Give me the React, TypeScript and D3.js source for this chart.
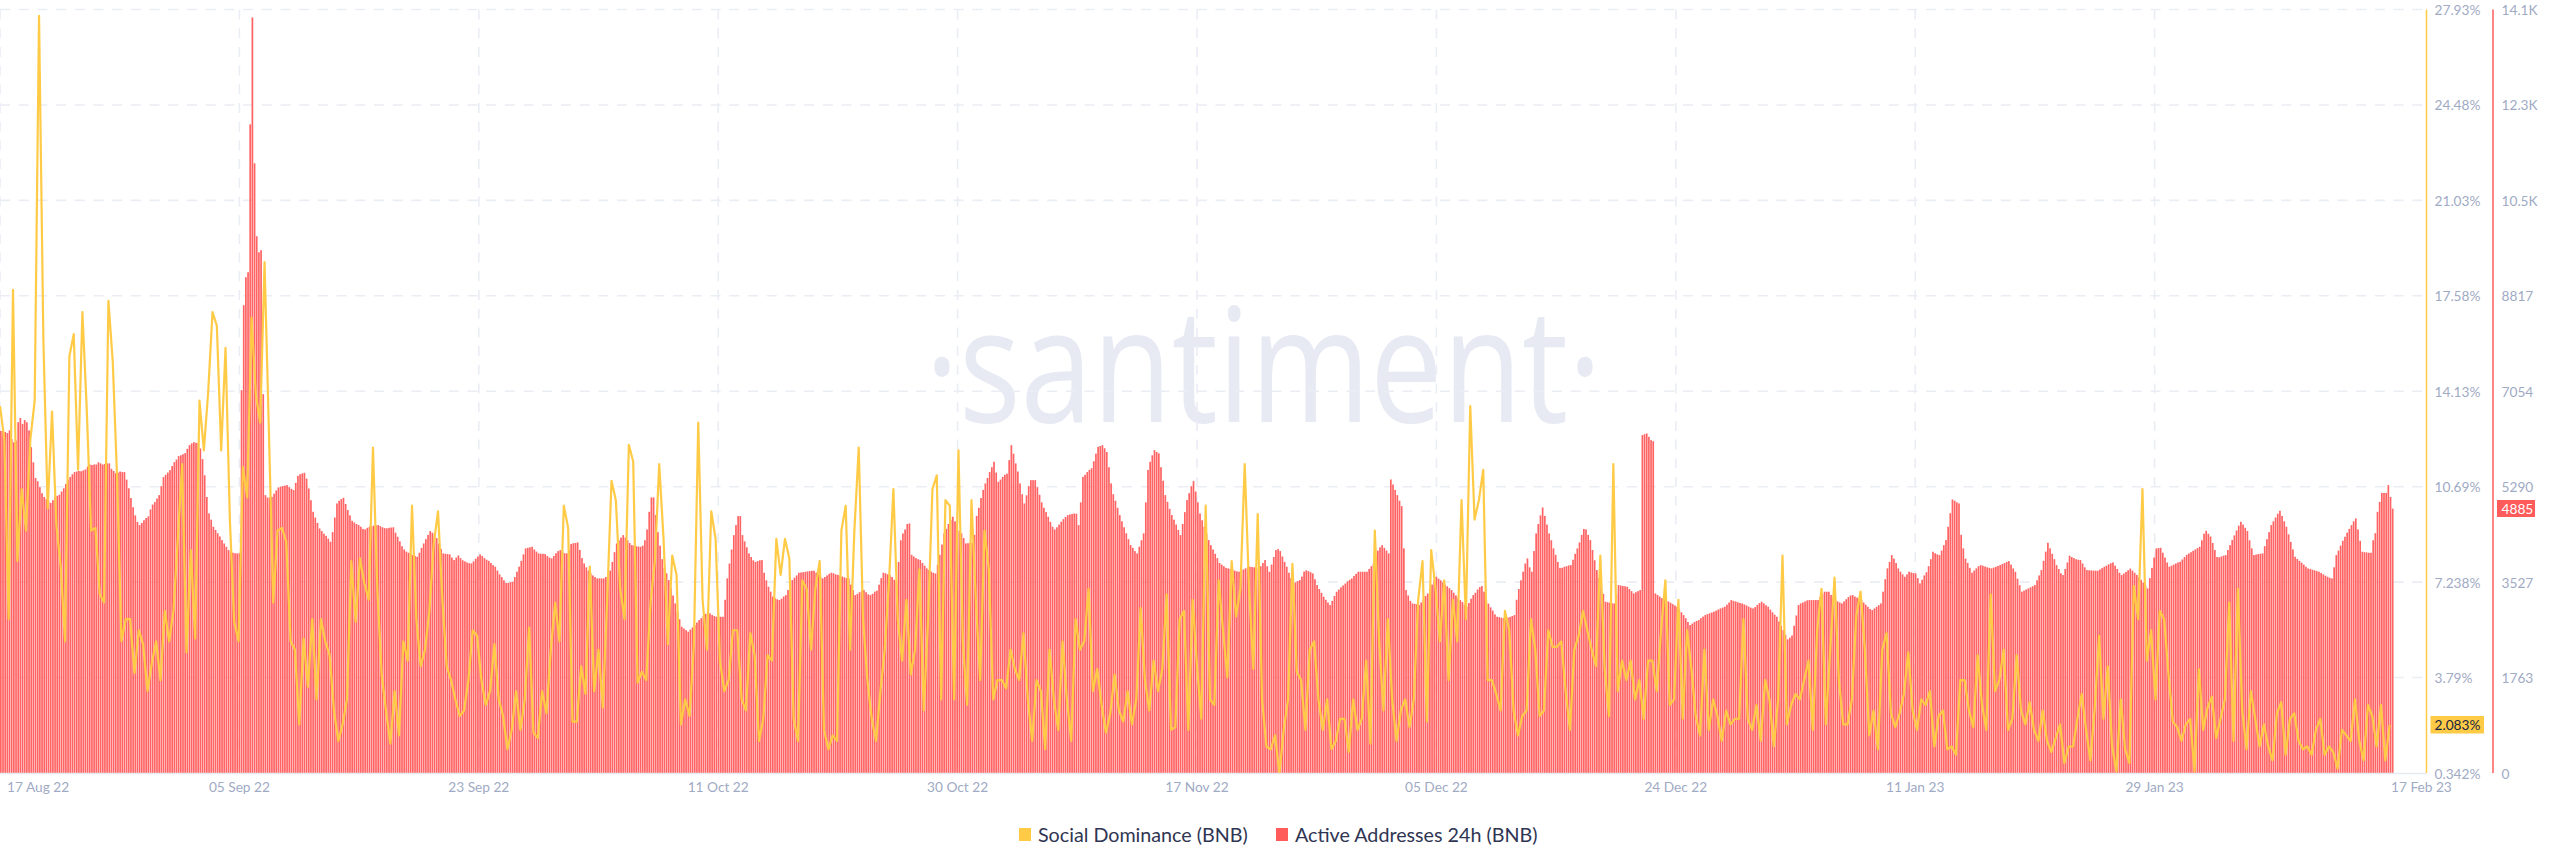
import * as d3 from "d3";

// one reading every 4 hours, from 17 Aug 22
const activeAddresses = [
  6320,6320,6300,6280,6330,6170,6110,6140,6480,6560,6450,6520,6480,6330,6020,5740,5450,5390,5280,5170,
  5100,5060,5020,4990,5040,5090,5120,5140,5200,5260,5340,5420,5470,5520,5560,5570,5580,5575,5590,5610,
  5660,5700,5690,5700,5700,5740,5720,5700,5710,5720,5720,5620,5580,5540,5550,5570,5560,5560,5420,5260,
  5080,4910,4760,4640,4580,4620,4670,4710,4740,4870,4960,5005,5070,5134,5300,5466,5510,5550,5596,5670,
  5743,5790,5854,5870,5890,5910,5990,6057,6090,6113,6100,6094,5996,5800,5500,5100,4796,4680,4549,4490,
  4430,4370,4303,4240,4180,4118,4090,4070,4060,4057,4057,7073,8643,9160,9252,11985,13960,11265,9917,9621,
  9658,6999,5134,5090,5090,5100,5160,5220,5276,5290,5300,5310,5319,5280,5250,5226,5360,5490,5520,5535,
  5547,5440,5257,5040,4826,4720,4620,4518,4470,4420,4383,4330,4272,4450,4720,4980,5030,5060,5085,4970,
  4857,4760,4660,4630,4600,4580,4550,4510,4500,4530,4549,4560,4570,4575,4580,4560,4540,4525,4520,4530,
  4535,4540,4440,4365,4280,4190,4130,4090,4069,4050,4025,4010,3995,4070,4160,4241,4320,4400,4470,4440,
  4400,4340,4240,4140,4057,4050,4045,4040,3980,3934,3980,4020,3970,3930,3910,3890,3875,3872,3910,3960,
  4000,4038,4010,3970,3940,3920,3880,3840,3811,3740,3670,3620,3560,3510,3510,3525,3534,3620,3720,3811,
  3920,4040,4149,4160,4170,4180,4130,4090,4057,4050,4050,4045,4010,3980,3964,4010,4060,4100,4118,4090,
  4060,4057,4120,4230,4245,4250,4260,4120,3970,3872,3800,3740,3687,3650,3620,3595,3595,3595,3595,3620,
  3680,3740,3900,4080,4241,4300,4350,4395,4350,4300,4250,4211,4200,4190,4185,4180,4200,4300,4500,4826,
  5091,5091,4765,4450,4200,3950,3790,3690,3564,3420,3280,3133,2980,2840,2703,2670,2640,2610,2650,2690,
  2730,2780,2826,2860,2900,2940,2967,2950,2920,2900,2887,2887,2887,2887,3200,3595,3870,4130,4395,4580,
  4746,4746,4395,4280,4170,4057,3990,3930,3900,3915,3930,3934,3700,3560,3440,3350,3260,3230,3210,3195,
  3220,3260,3287,3380,3470,3564,3610,3650,3700,3705,3710,3718,3725,3730,3735,3737,3700,3660,3620,3595,
  3620,3650,3680,3700,3690,3670,3660,3644,3630,3615,3600,3595,3480,3380,3287,3310,3340,3365,3380,3340,
  3300,3287,3310,3350,3370,3480,3600,3700,3690,3670,3657,3620,3570,3534,3900,4300,4426,4500,4600,4611,
  4030,4000,3970,3950,3934,3880,3830,3780,3750,3720,3700,3687,3850,4030,4220,4426,4510,4600,4680,4734,
  4650,4560,4480,4426,4340,4241,4245,4250,4254,4400,4750,4900,5080,5230,5350,5450,5560,5650,5750,5550,
  5380,5420,5470,5510,5530,5780,6057,5900,5720,5570,5350,5150,4980,5130,5300,5411,5411,5411,5280,5140,
  5000,4900,4820,4734,4640,4550,4500,4540,4590,4642,4690,4730,4765,4775,4785,4795,4790,4580,5000,5473,
  5510,5560,5600,5630,5760,5900,6027,6040,6057,6000,5930,5650,5350,5150,5030,4900,4765,4650,4540,4430,
  4320,4211,4160,4100,4057,4180,4300,4426,5000,5600,5750,5870,5965,5930,5905,5650,5400,5134,5010,4880,
  4765,4680,4590,4490,4395,4600,4820,5042,5170,5300,5393,5200,5000,4795,4670,4550,4420,4303,4210,4130,
  4050,3970,3880,3850,3820,3790,3780,3770,3755,3740,3725,3718,3735,3760,3780,3800,3811,3805,3800,3790,
  3780,3820,3880,3934,3820,3718,3850,3990,4118,4140,4100,4000,3900,3811,3700,3600,3503,3520,3545,3564,
  3630,3720,3745,3730,3710,3687,3580,3472,3400,3330,3256,3200,3150,3103,3180,3270,3349,3390,3430,3465,
  3500,3540,3570,3595,3640,3680,3718,3718,3718,3718,3718,3770,3820,3860,3980,4110,4170,4211,4160,4110,
  4057,5423,5330,5230,5134,5030,4931,4150,3380,3280,3180,3133,3125,3115,3103,3150,3210,3270,3318,3400,
  3480,3560,3626,3590,3560,3520,3480,3450,3415,3380,3330,3280,3240,3195,3160,3115,3072,3140,3220,3287,
  3330,3390,3435,3454,3350,3200,3130,3060,3000,2930,2887,2880,2870,2860,2857,2870,2885,2900,2918,3200,
  3400,3560,3720,3870,3964,3800,3718,4100,4426,4600,4760,4906,4750,4590,4426,4300,4150,4030,3900,3790,
  3790,3810,3820,3835,3841,3940,4050,4149,4260,4400,4510,4500,4400,4303,4120,3930,3749,3600,3460,3310,
  3165,3155,3145,3135,3133,3300,3472,3465,3455,3450,3441,3400,3360,3318,3340,3360,3380,6242,6260,6273,
  6210,6150,6130,3318,3290,3260,3230,3210,3195,3170,3145,3120,3095,3072,3020,2970,2918,2860,2790,2733,
  2760,2790,2810,2826,2860,2890,2918,2935,2950,2965,2980,3000,3020,3040,3055,3072,3110,3150,3195,3180,
  3170,3155,3140,3133,3115,3095,3075,3055,3041,3065,3105,3140,3165,3135,3100,3072,3020,2970,2925,2887,
  2800,2720,2640,2550,2469,2500,2540,2720,2910,3103,3133,3150,3170,3190,3195,3195,3195,3195,3195,3250,
  3300,3349,3349,3349,3290,3240,3195,3170,3150,3133,3170,3210,3250,3280,3287,3260,3240,3210,3195,3150,
  3110,3070,3030,3010,3040,3070,3100,3133,3350,3580,3780,3900,4026,3960,3880,3780,3720,3670,3626,3670,
  3718,3705,3695,3687,3600,3503,3570,3650,3710,3820,3950,4088,4060,4040,4026,4110,4210,4303,4550,4800,
  5054,5030,5000,4980,4400,4150,3960,3880,3790,3700,3740,3780,3820,3841,3830,3815,3800,3790,3780,3795,
  3810,3825,3841,3860,3880,3900,3915,3850,3780,3718,3590,3470,3349,3370,3390,3410,3430,3450,3472,3560,
  3650,3749,3920,4090,4254,4150,4050,3950,3841,3770,3690,3657,3770,3890,4014,3990,3970,3950,3940,3934,
  3870,3800,3749,3745,3743,3740,3738,3737,3760,3785,3810,3830,3855,3875,3890,3830,3770,3700,3657,3685,
  3715,3745,3775,3740,3700,3660,3620,3570,3520,3465,3410,3600,3790,3980,4149,4155,4160,4070,3980,3890,
  3811,3830,3850,3870,3890,3903,3945,3990,4030,4057,4080,4105,4130,4155,4180,4300,4420,4475,4420,4370,
  4250,4120,3990,3985,4000,4015,4026,4120,4210,4303,4390,4480,4570,4642,4590,4530,4470,4300,4150,4026,
  4035,4045,4050,4057,4190,4320,4450,4580,4650,4720,4790,4845,4750,4650,4550,4410,4270,4130,3995,3955,
  3920,3885,3850,3810,3780,3770,3755,3745,3730,3718,3695,3670,3645,3625,3605,3595,3800,4026,4110,4200,
  4290,4365,4440,4510,4580,4650,4703,4500,4290,4088,4080,4075,4070,4069,4300,4430,4825,5010,5175,5175,
  5175,5319,5100,4885,
];

// one reading every 8 hours, from 17 Aug 22
const socialDominance = [
  13.6,12.4,5.9,17.8,8.0,10.6,9.1,12.4,13.8,27.7,16.0,9.9,13.4,9.3,7.8,5.1,15.4,16.2,11.3,17.0,
  13.5,9.1,9.2,6.8,6.5,17.4,15.2,11.0,5.1,5.9,5.9,3.95,5.5,5.0,3.3,4.3,5.1,3.7,6.2,5.1,
  6.2,8.8,11.5,4.7,8.4,5.2,13.8,12.0,14.1,17.0,16.5,12.0,15.7,9.5,5.8,5.1,11.4,10.3,16.8,14.0,
  13.0,18.8,12.7,6.5,9.1,9.2,8.7,5.1,4.8,2.1,5.2,3.45,5.9,3.0,5.9,5.1,4.6,2.6,1.5,2.1,
  3.0,8.0,5.8,8.1,7.2,6.6,12.1,7.0,3.9,2.6,1.4,3.3,1.7,5.1,4.4,10.0,5.9,4.2,4.8,6.2,
  8.6,9.8,6.6,4.2,3.7,3.0,2.4,2.6,3.7,5.5,5.3,3.7,2.8,3.3,5.0,3.0,2.4,1.2,1.9,3.3,
  1.9,3.0,5.6,1.8,1.6,3.3,2.5,4.8,6.5,5.1,10.0,9.2,2.2,2.2,4.2,3.2,7.8,3.3,4.8,2.7,
  6.6,10.9,10.2,7.0,5.9,12.2,11.6,3.6,4.0,3.7,6.5,8.0,11.5,8.8,5.0,8.2,7.5,2.1,3.0,2.4,
  5.0,13.0,6.6,4.8,9.8,8.8,4.4,3.3,3.7,5.5,5.5,3.0,2.6,5.4,4.6,1.5,2.3,4.6,4.4,8.8,
  7.5,8.8,8.1,2.3,1.5,7.3,7.0,4.8,7.0,8.0,1.9,1.2,1.7,1.5,9.1,10.0,4.8,9.1,12.1,5.9,
  3.7,2.3,1.5,3.3,4.8,7.3,10.6,5.9,4.4,6.6,3.9,4.8,7.7,2.6,5.9,10.6,11.1,3.0,10.2,10.0,
  3.0,12.0,5.1,2.8,10.2,6.6,3.7,9.1,7.7,3.0,3.7,3.7,3.4,4.8,4.1,3.7,5.4,3.0,1.5,3.7,
  3.3,1.2,4.8,3.0,1.9,5.1,3.0,1.5,5.9,4.8,5.1,7.0,3.3,4.1,2.8,1.8,2.5,3.9,2.6,2.2,
  3.3,2.1,3.0,6.3,3.7,2.6,4.4,3.3,4.1,6.8,1.9,2.0,5.9,6.2,1.9,6.6,4.2,2.3,10.0,3.0,
  2.8,7.3,5.5,3.8,8.0,6.0,7.0,11.5,7.0,4.1,9.7,3.0,1.3,1.2,1.7,0.34,1.9,3.0,7.9,4.0,
  3.7,1.9,4.8,5.1,3.0,1.9,3.0,1.2,1.5,2.3,2.3,1.1,3.0,1.9,2.3,4.4,1.4,9.1,5.1,2.6,
  5.9,3.0,1.5,2.6,3.0,2.0,3.0,6.6,8.0,2.2,8.4,7.0,5.1,7.3,3.7,6.6,5.1,10.2,5.9,13.6,
  9.5,10.2,11.3,3.7,3.7,3.2,2.6,6.2,5.5,2.6,1.7,2.4,2.6,5.9,4.8,2.4,2.6,5.5,4.9,4.9,
  5.1,3.3,1.9,4.8,5.3,6.2,5.5,4.8,4.2,8.2,4.1,2.4,11.5,3.3,4.4,3.7,4.4,3.0,3.7,2.3,
  4.4,4.4,3.3,5.5,7.3,2.8,3.0,6.6,2.3,5.5,4.1,2.4,1.7,4.8,1.9,3.0,2.4,1.5,2.6,2.1,
  2.3,2.3,5.9,2.3,1.9,2.8,1.5,3.7,3.0,1.3,3.0,8.2,2.1,2.8,3.2,3.0,3.7,4.4,1.9,5.5,
  7.0,2.1,4.8,7.4,3.7,2.1,2.1,3.0,6.0,6.9,4.8,1.7,2.6,1.2,4.8,5.4,2.5,2.0,2.5,3.2,
  4.7,2.6,1.9,3.0,2.8,3.3,1.3,2.4,2.6,1.2,1.3,1.0,3.7,3.7,2.6,2.0,4.6,2.8,1.9,6.8,
  3.3,3.7,4.8,1.9,2.3,4.6,2.6,2.1,2.9,1.9,1.5,2.6,1.5,1.1,1.6,2.1,0.7,1.3,1.3,2.3,
  3.2,1.9,0.8,2.7,5.3,2.3,4.2,1.3,0.4,3.0,1.2,0.7,7.1,5.9,10.6,4.4,5.5,3.0,6.2,5.9,
  3.9,2.2,2.0,1.5,2.1,2.3,0.4,4.1,1.9,2.7,3.1,1.6,2.3,3.0,6.5,1.5,7.0,2.6,1.2,3.3,
  2.3,1.3,2.1,1.3,0.8,2.5,2.9,1.0,2.3,2.5,1.5,1.2,1.3,1.0,1.9,2.3,1.0,1.3,1.1,0.5,
  1.9,1.7,1.5,3.0,1.5,0.8,2.8,2.4,1.3,2.8,0.8,2.083,
];

const socialTicks = ["0.342%", "3.79%", "7.238%", "10.69%", "14.13%", "17.58%", "21.03%", "24.48%", "27.93%"];
const addressTicks = ["0", "1763", "3527", "5290", "7054", "8817", "10.5K", "12.3K", "14.1K"];
const dateTicks = ["17 Aug 22", "05 Sep 22", "23 Sep 22", "11 Oct 22", "30 Oct 22", "17 Nov 22", "05 Dec 22", "24 Dec 22", "11 Jan 23", "29 Jan 23", "17 Feb 23"];

const yellow = "#ffcb47";
const red = "#ff5b5b";
const tickColor = "#9faac4";
const gridColor = "#ebedf5";
const fontFamily = "Lato, 'Open Sans', sans-serif";

const width = 2560;
const height = 867;
const top = 9.5;
const bottom = 773;
const yellowAxisX = 2426.5;
const redAxisX = 2493;

const start = Date.UTC(2022, 7, 17);
const end = Date.UTC(2023, 1, 17);
const hour = 3600000;

const x = d3.scaleUtc().domain([start, end]).range([0, 2394]);
const ySocial = d3.scaleLinear().domain([0.342, 27.93]).range([bottom, top]);
const yAddress = d3.scaleLinear().domain([0, 14106]).range([bottom, top]);
const rows = d3.scaleLinear().domain([0, 8]).range([bottom, top]);

const socialLine = d3.line<number>()
  .x((_, j) => x(start + j * 8 * hour))
  .y((d) => ySocial(d));

const App = () => {
  return (
    <svg width={width} height={height} style={{ position: "absolute", left: 0, top: 0, display: "block", background: "#fff" }}>
      <text x={925} y={421.5} fontFamily="'Open Sans'" fontWeight={400} fontSize={159} fill="#e7eaf3" textLength={677} lengthAdjust="spacingAndGlyphs">·santiment·</text>

      {d3.range(1, 9).map((k) => (
        <line key={k} x1={0} x2={yellowAxisX} y1={rows(k)} y2={rows(k)} stroke={gridColor} strokeWidth={1.6} strokeDasharray="10 8.7" />
      ))}
      {dateTicks.slice(0, 10).map((_, k) => (
        <line key={k} x1={x(start + (k * (end - start)) / 10)} x2={x(start + (k * (end - start)) / 10)} y1={top} y2={bottom} stroke={gridColor} strokeWidth={1.6} strokeDasharray="10 8.7" />
      ))}

      {activeAddresses.map((d, i) => (
        <rect key={i} x={x(start + i * 4 * hour)} y={yAddress(d)} width={1.7} height={bottom - yAddress(d)} fill={red} fillOpacity={0.95} />
      ))}

      <path d={socialLine(socialDominance) ?? ""} fill="none" stroke={yellow} strokeWidth={2.2} strokeLinejoin="round" />

      <line x1={0} x2={yellowAxisX} y1={bottom + 0.5} y2={bottom + 0.5} stroke="#e7e9f2" strokeWidth={1.5} />
      <line x1={yellowAxisX} x2={yellowAxisX} y1={top} y2={bottom} stroke={yellow} strokeWidth={1.5} />
      <line x1={redAxisX} x2={redAxisX} y1={top} y2={bottom} stroke={red} strokeWidth={1.5} />

      <g fontFamily={fontFamily} fontSize={13.7} fill={tickColor}>
        {socialTicks.map((t, k) => (
          <text key={t} x={2434.5} y={rows(k)} dominantBaseline="central">{t}</text>
        ))}
        {addressTicks.map((t, k) => (
          <text key={t} x={2501.5} y={rows(k)} dominantBaseline="central">{t}</text>
        ))}
        {dateTicks.map((t, k) => {
          const px = x(start + (k * (end - start)) / 10);
          if (k === 0) return <text key={t} x={7} y={786.5} dominantBaseline="central">{t}</text>;
          if (k === 10) return <text key={t} x={2391} y={786.5} dominantBaseline="central">{t}</text>;
          return <text key={t} x={px} y={786.5} textAnchor="middle" dominantBaseline="central">{t}</text>;
        })}
      </g>

      <rect x={2430.5} y={716} width={53.5} height={17.5} fill={yellow} />
      <text x={2434.5} y={ySocial(2.083)} fontFamily={fontFamily} fontSize={13.7} fill="#1a2440" dominantBaseline="central">2.083%</text>
      <rect x={2497} y={500} width={38} height={17} fill={red} />
      <text x={2501.5} y={yAddress(4885)} fontFamily={fontFamily} fontSize={13.7} fill="#fff" dominantBaseline="central">4885</text>

      <g fontFamily={fontFamily} fontSize={19.7} fill="#2f3552">
        <rect x={1019} y={828} width={12} height={13} fill={yellow} />
        <text x={1038} y={834.5} dominantBaseline="central">Social Dominance (BNB)</text>
        <rect x={1276} y={828} width={12} height={13} fill={red} />
        <text x={1295} y={834.5} dominantBaseline="central">Active Addresses 24h (BNB)</text>
      </g>
    </svg>
  );
};

export default App;
